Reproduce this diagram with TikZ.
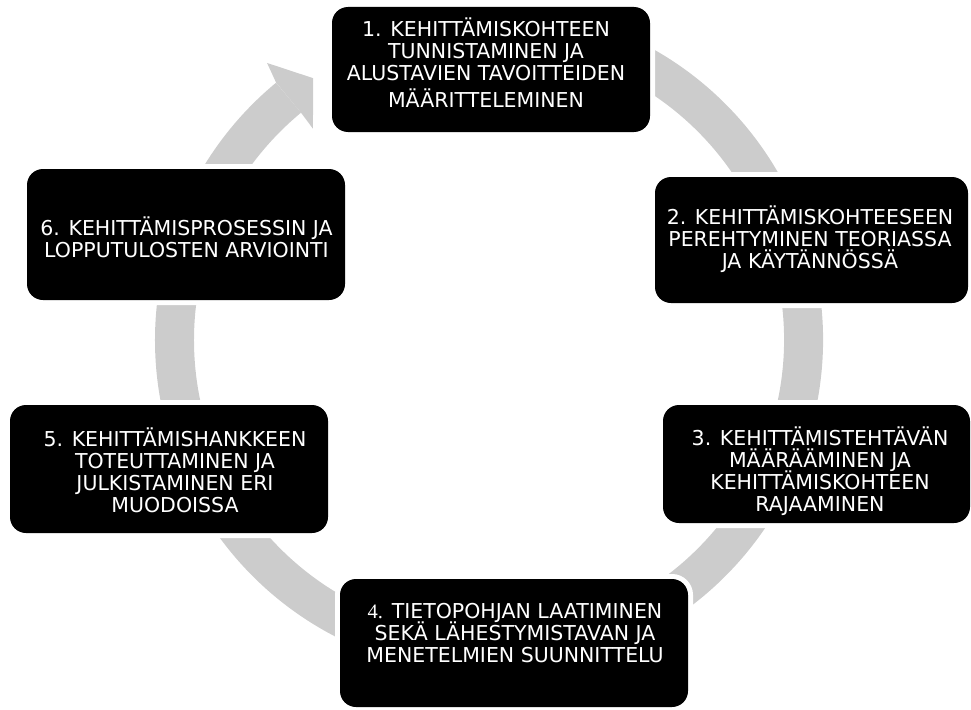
\documentclass[tikz,border=0pt]{standalone}
\usepackage{fontspec}
\setmainfont{DejaVu Sans}
\newfontfamily\numserif{Liberation Serif}
\definecolor{ringgrey}{RGB}{204,204,204}
\newcommand\boxline[1]{\strut\smash{#1}}
\begin{document}
\begin{tikzpicture}[x=1pt,y=1pt,yscale=-1,
  ring/.style={draw=ringgrey, line width=39pt},
  boxstyle/.style={fill=black, rounded corners=16pt, inner sep=0pt,
    preaction={draw=white, line width=10pt}},
  boxtext/.style={text=white, align=center, inner sep=0pt,
    font=\fontsize{20.5}{22}\selectfont}]
\useasboundingbox (0,0) rectangle (971,709);
% grey cycle ring with its arrowhead
\begin{scope}[shift={(489,340)}]
\coordinate (c) at (0,0);
\draw[ring] (-115:314.5) arc[start angle=-115, end angle=230.4, radius=314.5];
\fill[ringgrey] (-129.6:334) -- (-128.7:355) -- (-123.9:315.5)
  -- (-129.8:275) -- (-129.6:295) -- cycle;
\end{scope}
% boxes
\node[boxstyle, minimum width=318pt, minimum height=125pt] (b1) at (491,69.5) {};
\node[boxstyle, minimum width=313pt, minimum height=126pt] (b2) at (811.5,240) {};
\node[boxstyle, minimum width=307pt, minimum height=118pt] (b3) at (816.5,464) {};
\node[boxstyle, minimum width=348pt, minimum height=128pt] (b4) at (514,643) {};
\node[boxstyle, minimum width=318pt, minimum height=128pt] (b5) at (169,469) {};
\node[boxstyle, minimum width=318pt, minimum height=131pt] (b6) at (186,234.5) {};
% texts
\node[boxtext] (t1) at (486,67.6) {\boxline{1. KEHITTÄMISKOHTEEN}\\ \boxline{TUNNISTAMINEN JA}\\ \boxline{ALUSTAVIEN TAVOITTEIDEN}\\[5pt] \boxline{MÄÄRITTELEMINEN}};
\node[boxtext] (t2) at (810,242) {\boxline{2. KEHITTÄMISKOHTEESEEN}\\ \boxline{PEREHTYMINEN TEORIASSA}\\ \boxline{JA KÄYTÄNNÖSSÄ}};
\node[boxtext] (t3) at (820,474) {\boxline{3. KEHITTÄMISTEHTÄVÄN}\\ \boxline{MÄÄRÄÄMINEN JA}\\ \boxline{KEHITTÄMISKOHTEEN}\\ \boxline{RAJAAMINEN}};
\node[boxtext] (t4) at (515,636) {\boxline{{\numserif 4.} TIETOPOHJAN LAATIMINEN}\\ \boxline{SEKÄ LÄHESTYMISTAVAN JA}\\ \boxline{MENETELMIEN SUUNNITTELU}};
\node[boxtext] (t5) at (175,474.6) {\boxline{5. KEHITTÄMISHANKKEEN}\\ \boxline{TOTEUTTAMINEN JA}\\ \boxline{JULKISTAMINEN ERI}\\ \boxline{MUODOISSA}};
\node[boxtext] (t6) at (186.5,241.6) {\boxline{6. KEHITTÄMISPROSESSIN JA}\\ \boxline{LOPPUTULOSTEN ARVIOINTI}};
\end{tikzpicture}
\end{document}
